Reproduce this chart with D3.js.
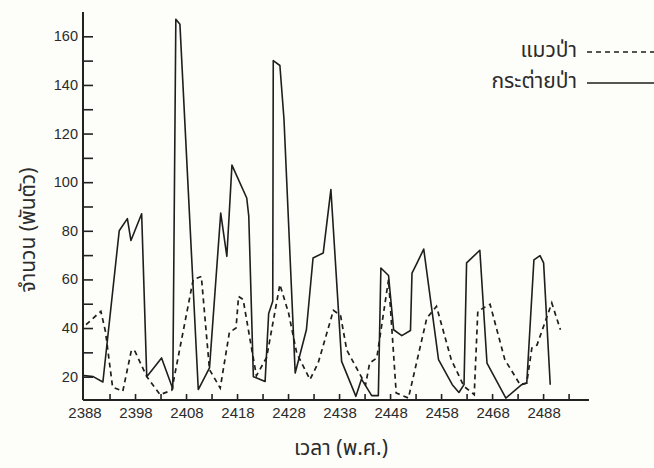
<!DOCTYPE html>
<html>
<head>
<meta charset="utf-8">
<script src="https://cdn.jsdelivr.net/npm/d3@7"></script>
<style>
  body { margin: 0; background: #fdfdf9; }
  svg { display: block; }
  text { font-family: "Liberation Sans", Arial, sans-serif; fill: #2b2b2b; }
  .thai { font-family: "Noto Sans Thai", "Tahoma", "Noto Sans", sans-serif; }
</style>
</head>
<body>
<svg id="chart"></svg>
<script>
const width = 654;
const height = 468;

// กระต่ายป่า (hare): year (พ.ศ.) and value (พันตัว)
const hareYears  = [2388, 2389.8, 2391.7, 2394.9, 2396.5, 2397.2, 2399.3, 2400.3, 2403.2, 2405.4,
                    2406.0, 2406.8, 2410.4, 2412.6, 2414.8, 2416.0, 2417.0, 2419.9, 2420.3, 2421.2,
                    2423.5, 2424.2, 2425.0, 2425.1, 2426.4, 2427.2, 2429.4, 2431.6, 2432.9, 2434.9,
                    2436.4, 2438.5, 2441.3, 2442.4, 2444.4, 2445.7, 2446.2, 2447.7, 2448.7, 2450.3,
                    2452.0, 2452.3, 2453.3, 2454.6, 2457.5, 2460.2, 2461.5, 2462.5, 2463.0, 2465.6,
                    2467.0, 2470.7, 2473.8, 2474.8, 2476.2, 2477.4, 2478.1, 2479.4];
const hareValues = [20.5, 20, 17.8, 80, 85, 76, 87, 20, 27.7, 15,
                    167, 165, 14.7, 23.6, 87.3, 69.5, 107, 93.5, 86, 20,
                    18, 46, 51, 150, 148, 126, 21.5, 39.3, 68.8, 70.9,
                    97, 26.3, 11.9, 19, 12.2, 12.2, 64.7, 61.6, 39.3, 36.9,
                    39, 62.6, 66.8, 72.5, 27, 16.7, 13.5, 16.7, 66.8, 72,
                    25.6, 11.2, 16.7, 17.4, 68, 69.8, 66.8, 16.7];

// แมวป่า (lynx)
const lynxYears  = [2388.4, 2391.3, 2392.2, 2393.6, 2395.6, 2397.3, 2398.0, 2400.3, 2402.9, 2405.2,
                    2409.4, 2411.0, 2412.6, 2414.7, 2416.5, 2417.8, 2418.3, 2419.2, 2420.9, 2421.8,
                    2423.8, 2426.4, 2428.1, 2429.7, 2432.3, 2433.9, 2436.9, 2438.3, 2439.5, 2443.2,
                    2444.0, 2445.4, 2447.7, 2449.2, 2451.6, 2455.2, 2457.1, 2460.0, 2462.5, 2464.5,
                    2465.2, 2467.6, 2470.5, 2473.5, 2474.8, 2475.8, 2476.8, 2479.7, 2481.4];
const lynxValues = [41.4, 46.9, 38.6, 15.7, 14, 31, 30.4, 20, 12.6, 14.4,
                    59.9, 61.2, 22.9, 15.3, 38.2, 40, 53, 51.7, 31, 20.4,
                    27.9, 57.9, 46.2, 29.7, 18.8, 25.6, 47.3, 45.1, 31, 16.7,
                    25.6, 27.7, 59.9, 13.3, 11.2, 44.1, 48.9, 27, 16, 12.6,
                    46.9, 49.8, 27, 16.7, 17.4, 31.8, 33, 50.3, 39.3];

// x ticks every 5 years, labels on every 10 (last label printed as 2488 in the original)
const xTickYears = d3.range(2388, 2484, 5);
const xLabelYears = [2388, 2398, 2408, 2418, 2428, 2438, 2448, 2458, 2468, 2478];
const xLabels = ['2388', '2398', '2408', '2418', '2428', '2438', '2448', '2458', '2468', '2488'];
const yTicks = d3.range(20, 161, 10);
const yLabels = [20, 40, 60, 80, 100, 120, 140, 160];

const legendNames = ['แมวป่า', 'กระต่ายป่า'];

const svg = d3.select('#chart')
    .attr('width', width)
    .attr('height', height);

const x = d3.scaleLinear()
    .domain([2387.8, 2487])
    .range([83, 589]);
const y = d3.scaleLinear()
    .domain([10.4, 170])
    .range([400, 12]);

const hare = hareYears.map((yr, i) => ({yr, v: hareValues[i]}));
const lynx = lynxYears.map((yr, i) => ({yr, v: lynxValues[i]}));

const line = d3.line()
    .x(d => x(d.yr))
    .y(d => y(d.v));

// y axis
const yAxis = svg.append('g')
    .attr('transform', `translate(${x.range()[0]},0)`)
    .call(d3.axisRight(y)
      .tickValues(yTicks)
      .tickSize(10)
      .tickFormat(''));
yAxis.select('.domain').remove();
yAxis.selectAll('.tick line').attr('stroke', '#222').attr('stroke-width', 1.6);
svg.append('line')
    .attr('x1', x.range()[0]).attr('x2', x.range()[0])
    .attr('y1', y.range()[1]).attr('y2', y.range()[0])
    .attr('stroke', '#222').attr('stroke-width', 2);

svg.append('g').selectAll('text')
  .data(yLabels)
  .enter().append('text')
    .attr('x', x.range()[0] - 5)
    .attr('y', d => y(d) + 5)
    .attr('text-anchor', 'end')
    .attr('font-size', 14.5)
    .text(d => d);

// x axis
const xAxis = svg.append('g')
    .attr('transform', `translate(0,${y.range()[0]})`)
    .call(d3.axisTop(x)
      .tickValues(xTickYears.slice(1))
      .tickSize(6)
      .tickFormat(''));
xAxis.select('.domain').remove();
xAxis.selectAll('.tick line').attr('stroke', '#222').attr('stroke-width', 1.6);
svg.append('line')
    .attr('x1', x.range()[0]).attr('x2', x.range()[1])
    .attr('y1', y.range()[0]).attr('y2', y.range()[0])
    .attr('stroke', '#222').attr('stroke-width', 2);

svg.append('g').selectAll('text')
  .data(xLabelYears)
  .enter().append('text')
    .attr('x', d => x(d) + 1)
    .attr('y', y.range()[0] + 18)
    .attr('text-anchor', 'middle')
    .attr('font-size', 15)
    .text((d, i) => xLabels[i]);

// series
svg.append('path')
    .datum(lynx)
    .attr('d', line)
    .attr('fill', 'none')
    .attr('stroke', '#1e1e1e')
    .attr('stroke-width', 1.7)
    .attr('stroke-dasharray', '5,4');

svg.append('path')
    .datum(hare)
    .attr('d', line)
    .attr('fill', 'none')
    .attr('stroke', '#1e1e1e')
    .attr('stroke-width', 1.6)
    .attr('stroke-linejoin', 'round');

// axis titles
svg.append('text')
    .attr('class', 'thai')
    .attr('transform', 'translate(35,230) rotate(-90)')
    .attr('text-anchor', 'middle')
    .attr('font-size', 21)
    .text('จำนวน (พันตัว)');

svg.append('text')
    .attr('class', 'thai')
    .attr('x', 341)
    .attr('y', 455)
    .attr('text-anchor', 'middle')
    .attr('font-size', 21)
    .text('เวลา (พ.ศ.)');

// legend
const legend = svg.append('g');
legendNames.forEach((name, i) => {
  const ly = 52 + i * 31;
  legend.append('text')
      .attr('class', 'thai')
      .attr('x', 577)
      .attr('y', ly + 5)
      .attr('text-anchor', 'end')
      .attr('font-size', 21)
      .text(name);
  legend.append('line')
      .attr('x1', 587).attr('x2', 660)
      .attr('y1', ly).attr('y2', ly)
      .attr('stroke', '#1e1e1e')
      .attr('stroke-width', 1.6)
      .attr('stroke-dasharray', i === 0 ? '5,4' : null);
});
</script>
</body>
</html>
